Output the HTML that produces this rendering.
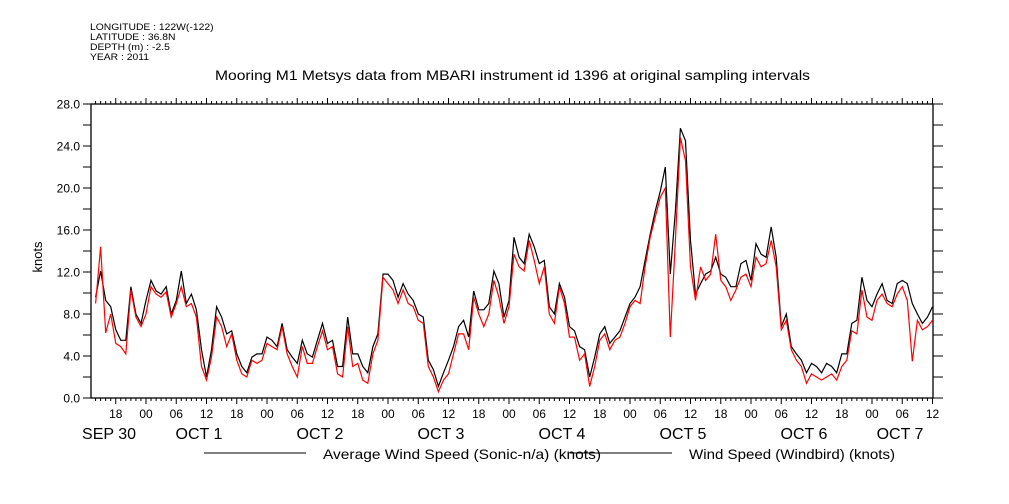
<!DOCTYPE html>
<html><head><meta charset="utf-8"><style>
body{margin:0;background:#fff}
svg{display:block;font-family:"Liberation Sans",sans-serif}
</style></head><body>
<svg id="chart" width="1009" height="504" viewBox="0 0 1009 504" xmlns="http://www.w3.org/2000/svg">
<rect width="1009" height="504" fill="#fff"/>
<g font-size="9" fill="#000" transform="translate(90,0) scale(1.15,1)">
<text x="0" y="30">LONGITUDE : 122W(-122)</text>
<text x="0" y="40">LATITUDE : 36.8N</text>
<text x="0" y="50">DEPTH (m) : -2.5</text>
<text x="0" y="60">YEAR : 2011</text>
</g>
<text x="215" y="80" textLength="595" lengthAdjust="spacingAndGlyphs" font-size="14">Mooring M1 Metsys data from MBARI instrument id 1396 at original sampling intervals</text>
<text transform="translate(42,257) rotate(-90)" text-anchor="middle" font-size="13">knots</text>
<g id="axes"></g>
<g id="series"></g>
<g font-size="14">
<line x1="204" y1="453" x2="306" y2="453" stroke="#000"/>
<text x="323" y="459" textLength="278" lengthAdjust="spacingAndGlyphs">Average Wind Speed (Sonic-n/a) (knots)</text>
<line x1="570" y1="453" x2="672" y2="453" stroke="#000"/>
<text x="689" y="459" textLength="206" lengthAdjust="spacingAndGlyphs">Wind Speed (Windbird) (knots)</text>
</g>
</svg>
<script>
const hours0 = -10; // first sample, hours since Oct 1 00:00, hourly spacing
const avgSpeed = [9.6,12.1,9.3,8.7,6.5,5.5,5.5,10.6,8.0,7.1,
9.3,11.2,10.2,9.9,10.6,8.0,9.3,12.1,9.0,9.9,8.4,4.6,2.0,4.6,8.7,7.7,6.1,6.4,4.2,3.0,2.4,3.9,4.2,4.2,
5.8,5.5,4.9,7.1,4.6,3.9,3.3,5.5,4.2,3.9,5.5,7.1,5.2,5.5,3.0,3.0,7.7,4.2,4.2,3.0,2.4,4.9,6.1,11.8,
11.8,11.2,9.6,10.9,9.9,9.3,8.0,7.7,3.6,2.7,1.1,2.4,3.6,4.9,6.8,7.4,5.8,10.2,8.4,8.4,9.0,12.1,10.9,7.7,
9.3,15.3,13.4,12.8,15.6,14.4,12.8,13.1,8.7,8.0,10.9,9.6,6.8,6.4,4.9,4.6,2.0,3.9,6.1,6.8,5.2,5.8,6.4,7.7,
9.0,9.6,10.6,13.1,15.6,17.8,19.7,22.0,11.8,17.8,25.7,24.5,15.0,9.9,10.9,11.8,12.1,13.4,11.8,11.5,10.6,
10.6,12.8,13.1,11.2,14.7,13.7,13.4,16.3,13.4,6.8,8.0,4.9,4.2,3.6,2.4,3.3,3.0,2.4,3.3,3.0,2.4,4.2,4.2,
7.1,7.4,11.5,9.3,8.7,9.9,10.9,9.3,9.0,10.9,11.2,10.9,9.0,8.0,7.1,7.7,8.7];
const windbirdSpeed = [9.0,14.4,6.2,8.0,5.2,4.9,4.2,10.3,7.7,6.8,
8.0,10.6,9.9,9.6,10.1,7.7,9.0,10.6,8.7,9.0,7.7,3.0,1.7,3.9,7.7,6.8,4.9,6.1,3.6,2.3,2.0,3.6,3.3,3.6,
5.2,4.9,4.6,6.8,4.2,3.0,2.0,4.9,3.3,3.3,4.9,6.4,4.6,4.9,2.3,2.0,6.8,3.0,3.3,1.7,1.4,4.2,5.5,11.5,
10.9,10.3,9.0,10.3,9.0,8.7,7.4,7.1,3.0,2.0,0.6,1.7,2.3,4.2,6.1,6.1,4.6,9.6,8.0,6.8,8.0,11.2,9.6,7.1,
8.7,13.7,12.5,12.1,15.0,13.1,10.9,12.5,8.0,7.1,10.6,9.0,5.8,5.8,3.6,4.2,1.1,3.0,5.5,6.1,4.6,5.5,5.8,7.1,
8.7,9.3,9.0,12.5,15.3,17.2,19.1,20.0,5.8,15.0,24.8,22.6,12.5,9.3,12.5,11.2,11.8,15.6,11.2,10.6,9.3,
10.3,11.5,11.8,10.6,13.4,12.5,12.8,15.0,12.5,6.5,7.4,4.6,3.6,3.0,1.4,2.3,2.0,1.7,2.0,2.3,1.7,3.0,3.6,
6.4,6.1,10.3,7.7,7.4,9.3,9.9,9.0,8.7,9.9,10.6,9.3,3.5,7.4,6.5,6.8,7.4];
const yTickValues = [0,4,8,12,16,20,24,28];
const hourTickLabels = ["18","00","06","12","18","00","06","12","18","00","06","12","18","00","06","12","18","00","06","12","18","00","06","12","18","00","06","12"];
const firstLabelHour = -6;
const dateLabels = ["SEP 30","OCT  1","OCT  2","OCT  3","OCT  4","OCT  5","OCT  6","OCT  7"];

const NS='http://www.w3.org/2000/svg';
const X0=91,X1=933,Y0=104,Y1=398;
const HMIN=-10.9,HMAX=156.1;
function xs(h){return 146+h*121/24;}
function ys(v){return Y1-(v/28)*(Y1-Y0);}
function mk(tag,attrs,parent){const e=document.createElementNS(NS,tag);for(const k in attrs)e.setAttribute(k,attrs[k]);parent.appendChild(e);return e;}
const axes=document.getElementById('axes');
let frame=mk('rect',{x:X0,y:Y0,width:X1-X0,height:Y1-Y0,fill:'none',stroke:'#000','stroke-width':1.3},axes);


for(let v=0;v<=28;v+=2){
  const y=ys(v);
  let t=mk('line',{x1:X0-8,y1:y,x2:X0,y2:y,stroke:'#000'},axes);
  
  
  let t2=mk('line',{x1:X1,y1:y,x2:X1+10,y2:y,stroke:'#000'},axes);
  
  
}
yTickValues.forEach(v=>{
  let l=mk('text',{x:X0-11,y:ys(v)+4.5,'text-anchor':'end','font-size':12},axes);
  l.textContent=v.toFixed(1);
  
  
});
for(let h=Math.ceil(HMIN);h<=HMAX;h++){
  const x=xs(h);const major=(((h%6)+6)%6)===0;const len=major?6:3;
  let a=mk('line',{x1:x,y1:Y0-len,x2:x,y2:Y0,stroke:'#000'},axes);
  
  
  let b=mk('line',{x1:x,y1:Y1,x2:x,y2:Y1+len,stroke:'#000'},axes);
  
  
}
hourTickLabels.forEach((s,i)=>{
  let l=mk('text',{x:xs(firstLabelHour+6*i),y:418,'text-anchor':'middle','font-size':12},axes);
  l.textContent=s;
  
  
});
dateLabels.forEach((s,i)=>{
  let cx = i===0 ? 109 : (i===7 ? 900 : xs(24*(i-1)+10.5));
  let l=mk('text',{x:cx,y:439,'text-anchor':'middle','font-size':16,'xml:space':'preserve'},axes);
  l.textContent=s;
  
  
});
const series=document.getElementById('series');
function draw(arr,color,name){
  const pts=arr.map((v,i)=>xs(hours0+i).toFixed(1)+','+ys(v).toFixed(1)).join(' ');
  let p=mk('polyline',{points:pts,fill:'none',stroke:color,'stroke-width':1.2,'stroke-linejoin':'miter'},series);
  
  
}
draw(avgSpeed,'#000','average-wind-speed-line');
draw(windbirdSpeed,'#ff0000','windbird-wind-speed-line');
</script>
</body></html>
